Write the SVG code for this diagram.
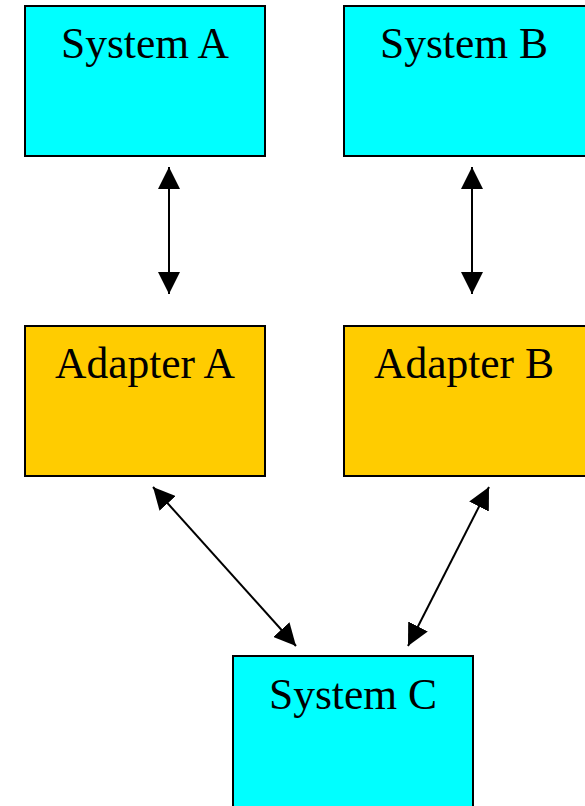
<svg xmlns="http://www.w3.org/2000/svg" width="585" height="806" viewBox="0 0 585 806">
<style>
.box{stroke:#000;stroke-width:2}
.sys{fill:#00FFFF}
.ad{fill:#FFCC00}
.lbl{font-family:"Liberation Serif","Times New Roman",serif;font-size:43.5px;fill:#000;text-anchor:middle}
.conn{stroke:#000;stroke-width:2;fill:none;marker-start:url(#ah);marker-end:url(#ah)}
</style>
<defs>
<marker id="ah" markerUnits="userSpaceOnUse" markerWidth="22" markerHeight="22" refX="20" refY="10" orient="auto-start-reverse" viewBox="0 0 20 20">
<path d="M0,0 L20,10 L0,20 Z" fill="#000"/>
</marker>
</defs>
<rect width="585" height="806" fill="#fff"/>
<g id="systemA"><rect class="box sys" x="25" y="6" width="240" height="150"/><text class="lbl" x="145" y="58">System A</text></g>
<g id="systemB"><rect class="box sys" x="344" y="6" width="242" height="150"/><text class="lbl" x="464" y="58">System B</text></g>
<g id="adapterA"><rect class="box ad" x="25" y="326" width="240" height="150"/><text class="lbl" x="145" y="378">Adapter A</text></g>
<g id="adapterB"><rect class="box ad" x="344" y="326" width="242" height="150"/><text class="lbl" x="464" y="378">Adapter B</text></g>
<g id="systemC"><rect class="box sys" x="233" y="656" width="240" height="152"/><text class="lbl" x="353" y="709">System C</text></g>
<g id="connectors">
<line class="conn" x1="169" y1="167" x2="169" y2="294"/>
<line class="conn" x1="472" y1="167" x2="472" y2="294"/>
<line class="conn" x1="153" y1="487" x2="296" y2="646"/>
<line class="conn" x1="489" y1="487" x2="408" y2="646"/>
</g>
</svg>
